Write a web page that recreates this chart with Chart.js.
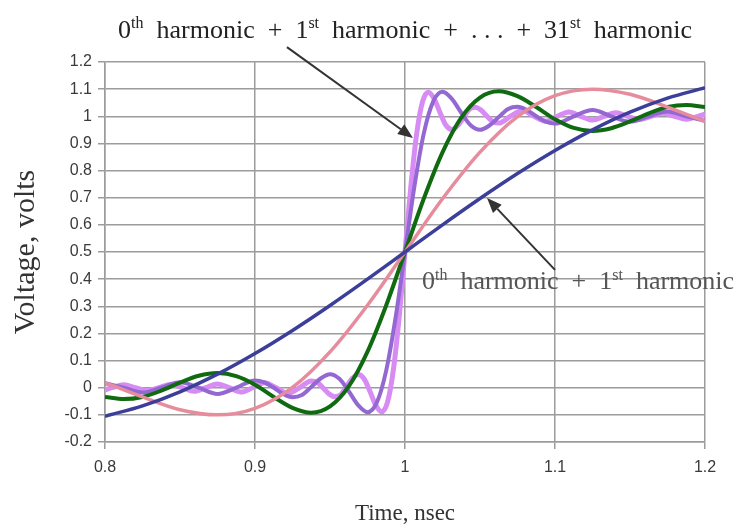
<!DOCTYPE html>
<html>
<head>
<meta charset="utf-8">
<script src="https://cdn.jsdelivr.net/npm/chart.js@4.4.1/dist/chart.umd.min.js"></script>
<style>
  html, body { margin: 0; padding: 0; background: #fff; }
  #wrap { width: 738px; height: 532px; position: relative; }
</style>
</head>
<body>
<div id="wrap"><canvas id="harmonicsChart"></canvas></div>
<script>
// Axis ticks (nsec, volts)
const timeTicks = [0.8, 0.9, 1, 1.1, 1.2];
const voltTicks = [-0.2, -0.1, 0, 0.1, 0.2, 0.3, 0.4, 0.5, 0.6, 0.7, 0.8, 0.9, 1, 1.1, 1.2];

// 0th + 1st harmonic (blue) and up to 3rd harmonic (pink)
const coarseTime = [0.8, 0.825, 0.85, 0.875, 0.9, 0.925, 0.95, 0.975, 1, 1.025, 1.05, 1.075, 1.1, 1.125, 1.15, 1.175, 1.2];
const blueVolt = [-0.105, -0.067, -0.015, 0.05, 0.126, 0.211, 0.303, 0.4, 0.5, 0.6, 0.697, 0.789, 0.874, 0.95, 1.015, 1.067, 1.105];
const pinkVolt = [0.019, -0.034, -0.081, -0.1, -0.076, 0.001, 0.132, 0.304, 0.5, 0.696, 0.868, 0.999, 1.076, 1.1, 1.081, 1.034, 0.981];

// up to 7th harmonic (green)
const greenTime = [0.8, 0.8125, 0.825, 0.8375, 0.85, 0.8625, 0.875, 0.8875, 0.9, 0.9125, 0.925, 0.9375, 0.95, 0.9625, 0.975, 0.9875, 1,
  1.0125, 1.025, 1.0375, 1.05, 1.0625, 1.075, 1.0875, 1.1, 1.1125, 1.125, 1.1375, 1.15, 1.1625, 1.175, 1.1875, 1.2];
const greenVolt = [-0.034, -0.042, -0.034, -0.011, 0.019, 0.044, 0.054, 0.043, 0.011, -0.034, -0.074, -0.092, -0.069, 0.005, 0.133, 0.304, 0.5,
  0.696, 0.867, 0.995, 1.069, 1.092, 1.074, 1.034, 0.989, 0.957, 0.946, 0.956, 0.981, 1.011, 1.034, 1.042, 1.034];

// up to 19th harmonic (purple)
const purpleTime = [0.8, 0.8125, 0.825, 0.8375, 0.85, 0.8625, 0.875, 0.8875, 0.9,
  0.90625, 0.9125, 0.91875, 0.925, 0.93125, 0.9375, 0.94375, 0.95, 0.95625, 0.9625, 0.96875, 0.975, 0.98125, 0.9875, 0.99375, 1,
  1.00625, 1.0125, 1.01875, 1.025, 1.03125, 1.0375, 1.04375, 1.05, 1.05625, 1.0625, 1.06875, 1.075, 1.08125, 1.0875, 1.09375,
  1.1, 1.1125, 1.125, 1.1375, 1.15, 1.1625, 1.175, 1.1875, 1.2];
const purpleVolt = [0.017, 0, -0.018, 0, 0.02, 0, -0.023, 0, 0.027,
  0.02, 0, -0.023, -0.035, -0.027, 0.003, 0.034, 0.05, 0.033, -0.013, -0.064, -0.09, -0.054, 0.064, 0.259, 0.5,
  0.741, 0.936, 1.054, 1.09, 1.064, 1.013, 0.967, 0.95, 0.966, 0.997, 1.027, 1.035, 1.023, 1, 0.98,
  0.973, 1, 1.023, 1, 0.98, 1, 1.018, 1, 0.983];

// up to 31st harmonic (light violet)
const violetTime = [0.8, 0.8047, 0.8125, 0.8203, 0.8281, 0.8359, 0.8438, 0.8516, 0.8594, 0.8672, 0.875, 0.8828, 0.8906, 0.8984, 0.9063, 0.9141, 0.9219, 0.9297,
  0.9375, 0.9414, 0.9453, 0.9492, 0.9531, 0.957, 0.9609, 0.9648, 0.9688, 0.9727, 0.9766, 0.9805, 0.9844, 0.9883, 0.9922, 0.9961, 1,
  1.0039, 1.0078, 1.0117, 1.0156, 1.0195, 1.0234, 1.0273, 1.0313, 1.0352, 1.0391, 1.043, 1.0469, 1.0508, 1.0547, 1.0586, 1.0625,
  1.0703, 1.0781, 1.0859, 1.0938, 1.1016, 1.1094, 1.1172, 1.125, 1.1328, 1.1406, 1.1484, 1.1563, 1.1641, 1.1719, 1.1797, 1.1875, 1.1953, 1.2];
const violetVolt = [-0.008, 0, 0.011, 0, -0.011, 0, 0.012, 0, -0.013, 0, 0.014, 0, -0.016, 0, 0.018, 0, -0.021, 0,
  0.025, 0.02, 0, -0.022, -0.033, -0.027, 0.004, 0.034, 0.049, 0.033, -0.013, -0.064, -0.089, -0.054, 0.064, 0.259, 0.5,
  0.741, 0.936, 1.054, 1.089, 1.064, 1.013, 0.967, 0.951, 0.966, 0.996, 1.027, 1.033, 1.022, 1, 0.98, 0.975,
  1, 1.021, 1, 0.982, 1, 1.016, 1, 0.986, 1, 1.013, 1, 0.988, 1, 1.011, 1, 0.989, 1, 1.008];

// Annotations: text pieces and anchors in (time, volts)
const topNoteParts = [
  { text: '0' }, { text: 'th', sup: true }, { text: '  harmonic  +  1' }, { text: 'st', sup: true },
  { text: '  harmonic  +  . . .  +  31' }, { text: 'st', sup: true }, { text: '  harmonic' }
];
const topNoteAt = [1.0, 1.29];
const topArrow = [0.9213, 1.255, 1.0053, 0.92];

const lowNoteParts = [
  { text: '0' }, { text: 'th', sup: true }, { text: '  harmonic  +  1' }, { text: 'st', sup: true }, { text: '  harmonic' }
];
const lowNoteAt = [1.0113, 0.362];
const lowArrow = [1.1, 0.434, 1.0547, 0.699];

function toPoints(times, volts) {
    return times.map((t, i) => ({ x: t, y: volts[i] }));
}

function drawArrow(ctx, x0, y0, x1, y1) {
    const ang = Math.atan2(y1 - y0, x1 - x0);
    const head = 15, half = 6;
    const bx = x1 - head * Math.cos(ang);
    const by = y1 - head * Math.sin(ang);
    ctx.beginPath();
    ctx.moveTo(x0, y0);
    ctx.lineTo(bx, by);
    ctx.stroke();
    ctx.beginPath();
    ctx.moveTo(x1, y1);
    ctx.lineTo(bx + half * Math.sin(ang), by - half * Math.cos(ang));
    ctx.lineTo(bx - half * Math.sin(ang), by + half * Math.cos(ang));
    ctx.closePath();
    ctx.fill();
}

function drawSupText(ctx, parts, x, y, size, align) {
    const base = size + 'px "Liberation Serif", "Times New Roman", serif';
    const small = Math.round(size * 0.6) + 'px "Liberation Serif", "Times New Roman", serif';
    let total = 0;
    parts.forEach(p => {
        ctx.font = p.sup ? small : base;
        total += ctx.measureText(p.text).width;
    });
    let cx = align === 'center' ? x - total / 2 : x;
    ctx.textAlign = 'left';
    ctx.textBaseline = 'alphabetic';
    parts.forEach(p => {
        ctx.font = p.sup ? small : base;
        ctx.fillText(p.text, cx, p.sup ? y - size * 0.38 : y);
        cx += ctx.measureText(p.text).width;
    });
}

const notesPlugin = {
    id: 'harmonicNotes',
    afterDraw(chart) {
        const { ctx, scales: { x, y } } = chart;
        ctx.save();
        ctx.strokeStyle = '#333';
        ctx.fillStyle = '#333';
        ctx.lineWidth = 2;
        drawArrow(ctx, x.getPixelForValue(topArrow[0]), y.getPixelForValue(topArrow[1]),
                  x.getPixelForValue(topArrow[2]), y.getPixelForValue(topArrow[3]));
        drawArrow(ctx, x.getPixelForValue(lowArrow[0]), y.getPixelForValue(lowArrow[1]),
                  x.getPixelForValue(lowArrow[2]), y.getPixelForValue(lowArrow[3]));

        ctx.fillStyle = '#222';
        drawSupText(ctx, topNoteParts, x.getPixelForValue(topNoteAt[0]), y.getPixelForValue(topNoteAt[1]), 26, 'center');
        ctx.fillStyle = '#555';
        drawSupText(ctx, lowNoteParts, x.getPixelForValue(lowNoteAt[0]), y.getPixelForValue(lowNoteAt[1]), 26, 'left');
        ctx.restore();
    }
};

function lineSet(label, times, volts, color, width) {
    return {
        label: label,
        data: toPoints(times, volts),
        borderColor: color,
        backgroundColor: color,
        borderWidth: width,
        pointRadius: 0,
        fill: false,
        cubicInterpolationMode: 'monotone'
    };
}

const gridColor = '#9c9c9c';

new Chart(document.getElementById('harmonicsChart').getContext('2d'), {
    type: 'line',
    data: {
        datasets: [
            lineSet('0th + 1st harmonic', coarseTime, blueVolt, '#3c3f9a', 3.5),
            lineSet('up to 3rd harmonic', coarseTime, pinkVolt, '#e68c9c', 3.5),
            lineSet('up to 7th harmonic', greenTime, greenVolt, '#0f6a10', 4),
            lineSet('up to 19th harmonic', purpleTime, purpleVolt, '#9468d2', 4),
            lineSet('up to 31st harmonic', violetTime, violetVolt, '#d68cf2', 5)
        ]
    },
    options: {
        responsive: true,
        maintainAspectRatio: false,
        animation: false,
        layout: { padding: { top: 62, right: 33, bottom: 0, left: 0 } },
        plugins: {
            legend: { display: false },
            tooltip: { enabled: false }
        },
        scales: {
            x: {
                type: 'linear',
                min: 0.8,
                max: 1.2,
                afterBuildTicks: scale => { scale.ticks = timeTicks.map(v => ({ value: v })); },
                afterFit: scale => { scale.height = 90; },
                ticks: {
                    callback: value => String(value),
                    color: '#3a3a3a',
                    font: { family: 'Liberation Sans', size: 16 },
                    padding: 9,
                    maxRotation: 0
                },
                grid: { color: gridColor, lineWidth: 1.5, tickLength: 7 },
                border: { color: gridColor, width: 1.5 },
                title: {
                    display: true,
                    text: 'Time, nsec',
                    color: '#333',
                    font: { family: 'Liberation Serif', size: 23 },
                    padding: { top: 0, bottom: 4 }
                }
            },
            y: {
                min: -0.2,
                max: 1.2,
                afterBuildTicks: scale => { scale.ticks = voltTicks.map(v => ({ value: v })); },
                afterFit: scale => { scale.width = 105; },
                ticks: {
                    callback: value => String(value),
                    color: '#3a3a3a',
                    font: { family: 'Liberation Sans', size: 16 },
                    padding: 6
                },
                grid: { color: gridColor, lineWidth: 1.5, tickLength: 7 },
                border: { color: gridColor, width: 1.5 },
                title: {
                    display: true,
                    text: 'Voltage, volts',
                    color: '#333',
                    font: { family: 'Liberation Serif', size: 30 },
                    padding: { top: 8, bottom: 0 }
                }
            }
        }
    },
    plugins: [notesPlugin]
});
</script>
</body>
</html>
